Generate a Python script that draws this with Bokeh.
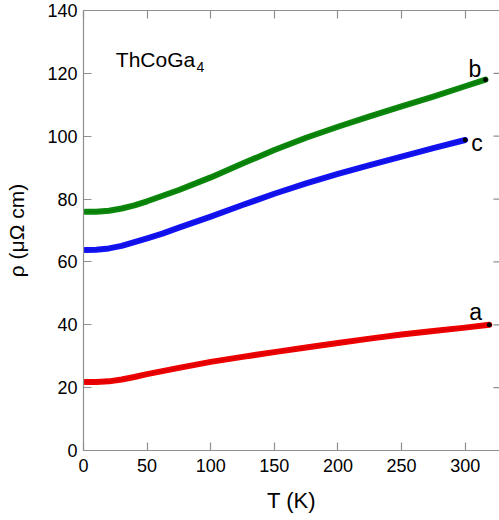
from bokeh.plotting import figure
from bokeh.models import LinearAxis, Label, Range1d, FixedTicker, CustomLabelingPolicy
from bokeh.embed import file_html
from bokeh.resources import INLINE

# Temperature (K) and resistivity (micro-ohm cm)
T_a = [1.5, 10, 20, 30, 40, 50, 75, 100, 125, 150, 175, 200, 225, 250, 275, 300, 319]
rho_a = [21.8, 21.8, 22.0, 22.6, 23.4, 24.3, 26.3, 28.2, 29.8, 31.3, 32.8, 34.2, 35.6, 36.9, 38.0, 39.1, 40.0]

T_b = [1.5, 10, 20, 30, 40, 50, 75, 100, 125, 150, 175, 200, 225, 250, 275, 300, 316]
rho_b = [76.0, 76.0, 76.3, 77.0, 78.0, 79.3, 82.9, 86.9, 91.3, 95.6, 99.5, 103.0, 106.3, 109.5, 112.6, 115.9, 118.0]

T_c = [1.5, 10, 20, 30, 40, 50, 62, 75, 100, 125, 150, 175, 200, 225, 250, 275, 300]
rho_c = [63.8, 63.9, 64.3, 65.1, 66.3, 67.5, 69.0, 70.9, 74.4, 78.1, 81.7, 85.0, 88.0, 90.8, 93.5, 96.2, 98.8]

x_ticks = [0, 50, 100, 150, 200, 250, 300]
y_ticks = [0, 20, 40, 60, 80, 100, 120, 140]

series = [
    ("a", T_a, rho_a, "#ee0000", -20, 13),
    ("b", T_b, rho_b, "#0b870b", -17, 11),
    ("c", T_c, rho_c, "#1212f2", 6, -3),
]

FONT = "Liberation Sans"
AXIS_GREY = "#8f8f8f"
X_END = 327
FRAME_W = 416  # px, frame width (499 - 83)

p = figure(width=499, height=515, x_range=Range1d(0, X_END), y_range=Range1d(0, 140),
           output_backend="svg", toolbar_location=None,
           min_border_left=83, min_border_right=0, min_border_top=10, min_border_bottom=64)
p.grid.visible = False
p.outline_line_color = None
p.background_fill_color = "white"
p.border_fill_color = "white"

for name, xs, ys, col, dx, dy in series:
    p.line(xs, ys, line_color=col, line_width=6, line_cap="round", line_join="round")
    p.line(xs, ys, line_color="black", line_width=1, line_alpha=0.12)
    p.scatter([xs[-1]], [ys[-1]], size=4, color="black")
    p.add_layout(Label(x=xs[-1], y=ys[-1], x_offset=dx, y_offset=dy, text=name,
                       text_font=FONT, text_font_size="23px", text_color="black",
                       text_baseline="alphabetic", text_align="left"))

def style(ax, labels=True):
    ax.axis_line_color = AXIS_GREY
    ax.axis_line_width = 1.2
    ax.major_tick_line_color = AXIS_GREY
    ax.major_tick_line_width = 1.2
    ax.major_tick_in = 8
    ax.major_tick_out = 0
    ax.minor_tick_line_color = None
    ax.major_label_text_font = FONT
    ax.major_label_text_color = "black"
    if labels:
        ax.major_label_text_font_size = "18px"
        ax.major_label_standoff = 6
    else:
        ax.major_label_text_font_size = "0px"
        ax.major_label_standoff = 0
        ax.major_label_policy = CustomLabelingPolicy(code="return []")
    ax.axis_label_text_font = FONT
    ax.axis_label_text_font_size = "22px"
    ax.axis_label_text_font_style = "normal"
    ax.axis_label_text_color = "black"

xa = p.xaxis[0]
xa.ticker = FixedTicker(ticks=x_ticks)
xa.axis_label = "T (K)"
style(xa)
xa.major_label_standoff = 8
xa.axis_label_standoff = 13

ya = p.yaxis[0]
ya.ticker = FixedTicker(ticks=y_ticks)
ya.axis_label = "ρ (μΩ cm)"
style(ya)
ya.axis_label_text_font_size = "21px"
ya.axis_label_standoff = 16

top = LinearAxis(ticker=FixedTicker(ticks=x_ticks))
style(top, labels=False)
p.add_layout(top, "above")

# inward ticks on the right edge of the frame (no axis line there)
tick_len = 6 * X_END / FRAME_W
p.segment(x0=[X_END] * len(y_ticks), y0=y_ticks,
          x1=[X_END - tick_len] * len(y_ticks), y1=y_ticks,
          line_color=AXIS_GREY, line_width=1.2)

p.add_layout(Label(x=25.4, y=124.3, text="ThCoGa", text_font=FONT, text_font_size="21px",
                   text_color="black", text_baseline="alphabetic"))
p.add_layout(Label(x=88.8, y=122.0, text="4", text_font=FONT, text_font_size="14px",
                   text_color="black", text_baseline="alphabetic"))

open("out.html", "w").write(file_html(p, INLINE))
